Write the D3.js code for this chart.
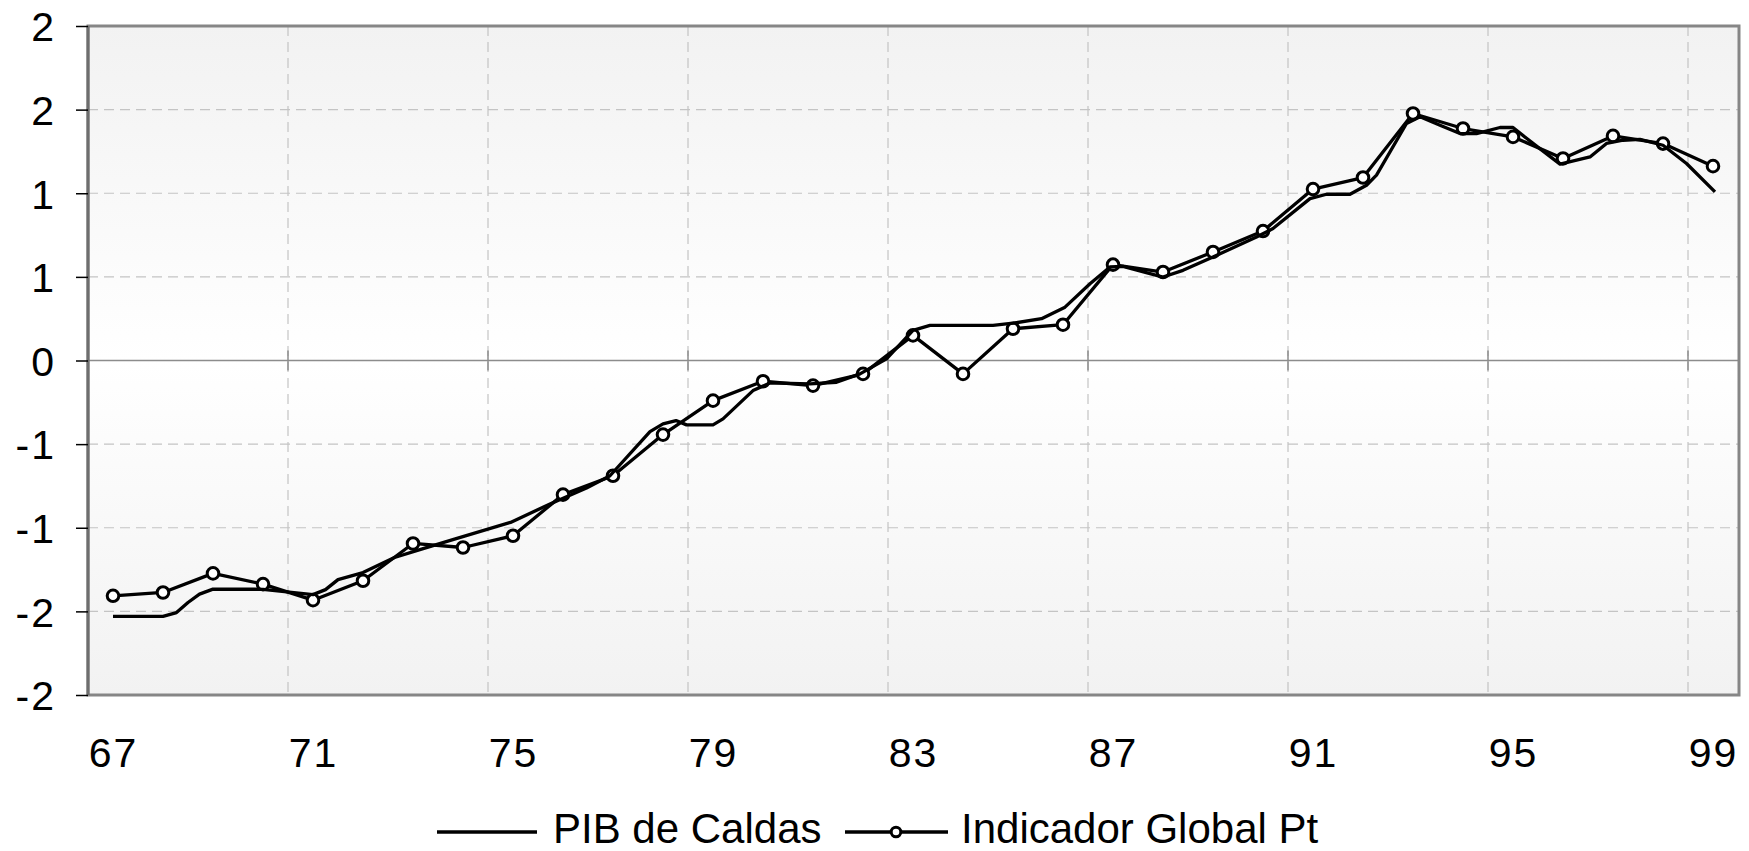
<!DOCTYPE html>
<html><head><meta charset="utf-8">
<script src="https://cdn.jsdelivr.net/npm/d3@7"></script>
<style>
body{margin:0;background:#fff;}
svg{display:block;}
text{font-family:"Liberation Sans",Arial,sans-serif;fill:#000;}
</style>
</head><body>
<svg id="chart" width="1749" height="851"></svg>
<script>
// ---- data ----
const xTickYears = [67,71,75,79,83,87,91,95,99];
const xGridYears = [70.5,74.5,78.5,82.5,86.5,90.5,94.5,98.5];
const yTickValues = [-2,-1.5,-1,-0.5,0,0.5,1,1.5,2];
const yTickLabels = ["-2","-2","-1","-1","0","1","1","2","2"];

const indicatorYears = [67,68,69,70,71,72,73,74,75,76,77,78,79,80,81,82,83,84,85,86,87,88,89,90,91,92,93,94,95,96,97,98,99];
const indicatorValues = [-1.407,-1.387,-1.273,-1.337,-1.433,-1.317,-1.094,-1.118,-1.048,-0.802,-0.689,-0.443,-0.240,-0.124,-0.150,-0.080,0.150,-0.080,0.190,0.214,0.573,0.529,0.649,0.774,1.025,1.094,1.477,1.387,1.337,1.208,1.343,1.297,1.162];

const pibTime = [67.0,68.0,68.27,68.5,68.73,69.0,70.0,71.0,71.25,71.5,72.0,72.63,73.17,73.83,74.95,75.74,76.47,76.94,77.74,78.0,78.26,78.47,79.0,79.2,79.8,80.14,80.94,81.47,81.94,82.47,83.0,83.34,84.6,85.0,85.57,86.04,86.54,86.94,87.2,88.0,88.4,89.0,89.87,90.2,90.94,91.27,91.74,92.07,92.27,92.87,93.14,93.54,93.94,94.27,94.74,95.0,95.4,95.94,96.54,96.87,97.2,97.54,98.0,98.47,99.04];
const pibValues = [-1.53,-1.53,-1.507,-1.447,-1.397,-1.367,-1.368,-1.40,-1.37,-1.31,-1.268,-1.178,-1.128,-1.068,-0.968,-0.858,-0.763,-0.689,-0.425,-0.379,-0.359,-0.385,-0.385,-0.349,-0.180,-0.134,-0.140,-0.130,-0.080,0.010,0.180,0.210,0.210,0.223,0.250,0.319,0.459,0.559,0.563,0.499,0.539,0.619,0.738,0.789,0.968,0.994,0.994,1.048,1.108,1.417,1.457,1.407,1.357,1.357,1.393,1.393,1.298,1.174,1.217,1.298,1.317,1.322,1.287,1.178,1.008];

const seriesNames = ["PIB de Caldas","Indicador Global Pt"];

// ---- layout ----
const L = 88, R = 1739, T = 26, B = 695;
const svg = d3.select("#chart");
const x = d3.scaleLinear().domain([66.5, 99.52]).range([L, R]);
const y = d3.scaleLinear().domain([-2, 2]).range([B, T]);

const defs = svg.append("defs");
const grad = defs.append("linearGradient").attr("id","bg").attr("x1",0).attr("y1",0).attr("x2",0).attr("y2",1);
grad.append("stop").attr("offset","0%").attr("stop-color","#f2f2f2");
grad.append("stop").attr("offset","50%").attr("stop-color","#ffffff");
grad.append("stop").attr("offset","100%").attr("stop-color","#f2f2f2");

svg.append("rect").attr("x",L).attr("y",T).attr("width",R-L).attr("height",B-T).attr("fill","url(#bg)");

// horizontal gridlines
svg.append("g").selectAll("line").data(yTickValues.filter(v => v !== 0 && v !== 2 && v !== -2)).join("line")
  .attr("x1",L).attr("x2",R).attr("y1",d=>y(d)).attr("y2",d=>y(d))
  .attr("stroke","#c4c4c4").attr("stroke-width",1.2).attr("stroke-dasharray","10,6");
// vertical gridlines
svg.append("g").selectAll("line").data(xGridYears).join("line")
  .attr("x1",d=>x(d)).attr("x2",d=>x(d)).attr("y1",T).attr("y2",B)
  .attr("stroke","#c4c4c4").attr("stroke-width",1.2).attr("stroke-dasharray","10,6");

// zero line (category axis) with crossing ticks
svg.append("line").attr("x1",L).attr("x2",R).attr("y1",y(0)).attr("y2",y(0))
  .attr("stroke","#8c8c8c").attr("stroke-width",1.5);
svg.append("g").selectAll("line").data(xGridYears).join("line")
  .attr("x1",d=>x(d)).attr("x2",d=>x(d)).attr("y1",y(0)-10).attr("y2",y(0)+10)
  .attr("stroke","#8c8c8c").attr("stroke-width",1.5);

// plot border
svg.append("rect").attr("x",L).attr("y",T).attr("width",R-L).attr("height",B-T)
  .attr("fill","none").attr("stroke","#868686").attr("stroke-width",3);
svg.append("line").attr("x1",L).attr("x2",L).attr("y1",T).attr("y2",B)
  .attr("stroke","#6e6e6e").attr("stroke-width",3);

// y axis
const yAxis = d3.axisLeft(y).tickValues(yTickValues)
  .tickFormat((d,i) => yTickLabels[i]).tickSize(12).tickPadding(20);
const gy = svg.append("g").attr("transform",`translate(${L},0)`).call(yAxis);
gy.select(".domain").remove();
gy.selectAll(".tick line").attr("stroke","#000").attr("stroke-width",1.5);
gy.selectAll(".tick text").attr("font-size",41).attr("font-family","'Liberation Sans',Arial,sans-serif")
  .attr("fill","#000").attr("dy","0.36em").attr("letter-spacing","2px");

// x axis labels
const xAxis = d3.axisBottom(x).tickValues(xTickYears).tickFormat(d => String(d)).tickSize(0).tickPadding(0);
const gx = svg.append("g").attr("transform",`translate(0,${B})`).call(xAxis);
gx.select(".domain").remove();
gx.selectAll(".tick text").attr("font-size",41).attr("font-family","'Liberation Sans',Arial,sans-serif")
  .attr("fill","#000").attr("y",72).attr("dy",0).attr("letter-spacing","2px");

// series
const indData = indicatorYears.map((yr,i)=>({t:yr, v:indicatorValues[i]}));
const pibData = pibTime.map((t,i)=>({t:t, v:pibValues[i]}));
const line = d3.line().x(d=>x(d.t)).y(d=>y(d.v));

svg.append("path").datum(indData).attr("d",line).attr("fill","none")
  .attr("stroke","#000").attr("stroke-width",3.3).attr("stroke-linejoin","round");
svg.append("g").selectAll("circle").data(indData).join("circle")
  .attr("cx",d=>x(d.t)).attr("cy",d=>y(d.v)).attr("r",5.8)
  .attr("fill","#fff").attr("stroke","#000").attr("stroke-width",3);

svg.append("path").datum(pibData).attr("d",line).attr("fill","none")
  .attr("stroke","#000").attr("stroke-width",3.3).attr("stroke-linejoin","round");

// legend
const lg = svg.append("g");
const ly = 832;
lg.append("line").attr("x1",437).attr("x2",537).attr("y1",ly).attr("y2",ly).attr("stroke","#000").attr("stroke-width",3.3);
lg.append("text").attr("x",553).attr("y",843).attr("font-size",42).text(seriesNames[0]);
lg.append("line").attr("x1",845).attr("x2",948).attr("y1",ly).attr("y2",ly).attr("stroke","#000").attr("stroke-width",3.3);
lg.append("circle").attr("cx",896).attr("cy",ly).attr("r",4.8).attr("fill","#fff").attr("stroke","#000").attr("stroke-width",3);
lg.append("text").attr("x",961).attr("y",843).attr("font-size",42).text(seriesNames[1]);
</script>
</body></html>
